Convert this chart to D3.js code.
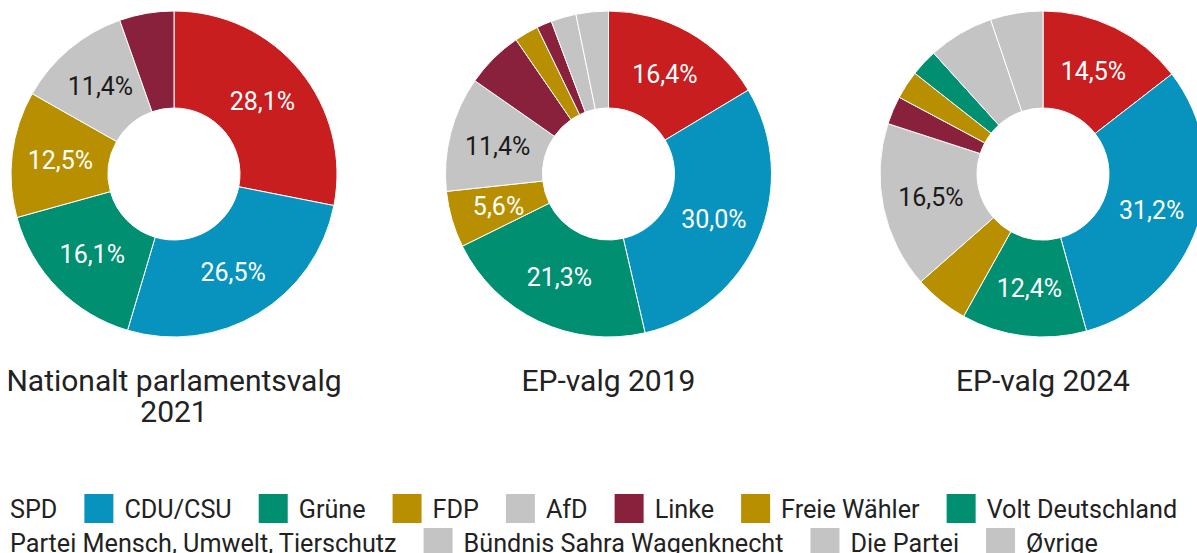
<!DOCTYPE html>
<html>
<head>
<meta charset="utf-8">
<script src="https://cdnjs.cloudflare.com/ajax/libs/d3/7.9.0/d3.min.js"></script>
<style>
  html, body { margin: 0; padding: 0; background: #fff; overflow: hidden; }
  svg { display: block; font-family: Roboto, "Noto Sans", sans-serif; }
</style>
</head>
<body>
<div id="chart"></div>
<script>
// partier (rækkefølge = rækkefølge i ringene, med uret fra kl. 12)
const partier = ["SPD", "CDU/CSU", "Grüne", "FDP", "AfD", "Linke", "Freie Wähler",
  "Volt Deutschland", "Partei Mensch, Umwelt, Tierschutz", "Bündnis Sahra Wagenknecht",
  "Die Partei", "Øvrige"];
const farver = ["#c81e1f", "#0893bf", "#008f71", "#b88f00", "#c4c4c4", "#8a213c", "#b88f00",
  "#008f71", "#8a213c", "#c4c4c4", "#c4c4c4", "#c4c4c4"];

const valgTitler = ["Nationalt parlamentsvalg 2021", "EP-valg 2019", "EP-valg 2024"];

// andele i procent, 0 = ikke med
const valg2021 = [28.1, 26.5, 16.1, 12.5, 11.4, 5.4, 0, 0, 0, 0, 0, 0];
const ep2019   = [16.4, 30.0, 21.3, 5.6, 11.4, 5.7, 2.4, 0, 1.5, 0, 2.5, 3.2];
const ep2024   = [14.5, 31.2, 12.4, 5.4, 16.5, 2.8, 2.8, 2.7, 0, 6.5, 0, 5.2];
const alleValg = [valg2021, ep2019, ep2024];

// kun de fem store partier får procent-tekst, og kun hvis skiven er stor nok
const MED_LABEL = 5;
const GRAENSE_LABEL = 5.5;

const W = 1197, H = 553;
const R_YDRE = 163, R_INDRE = 66;
const cy = 174;

const svg = d3.select("#chart").append("svg")
  .attr("width", W).attr("height", H);

const xPos = d3.scalePoint().domain(d3.range(alleValg.length)).range([174, 1043]);

const pie = d3.pie().sort(null).value(d => d.v);
const arc = d3.arc().innerRadius(R_INDRE).outerRadius(R_YDRE);
const fmt = v => d3.format(".1f")(v).replace(".", ",") + "%";

alleValg.forEach((vals, i) => {
  const data = vals.map((v, j) => ({ v, j })).filter(d => d.v > 0);
  const g = svg.append("g").attr("transform", `translate(${xPos(i)},${cy})`);

  g.selectAll("path").data(pie(data)).join("path")
    .attr("d", arc)
    .attr("fill", d => farver[d.data.j])
    .attr("stroke", "#fff")
    .attr("stroke-width", 1);

  g.selectAll("text")
    .data(pie(data).filter(d => d.data.j < MED_LABEL && d.data.v >= GRAENSE_LABEL))
    .join("text")
    .attr("transform", d => `translate(${arc.centroid(d)})`)
    .attr("text-anchor", "middle")
    .attr("dy", "0.36em")
    .attr("font-size", 25)
    .attr("fill", d => farver[d.data.j] === "#c4c4c4" ? "#1a1a1a" : "#fff")
    .text(d => fmt(d.data.v));

  // titel, brydes hvis for bred
  const t = svg.append("text")
    .attr("x", xPos(i)).attr("y", 391)
    .attr("text-anchor", "middle")
    .attr("font-size", 30)
    .attr("fill", "#222");
  const ord = valgTitler[i].split(" ");
  let linje = [], tsp = t.append("tspan").attr("x", xPos(i)).attr("dy", 0);
  ord.forEach(o => {
    linje.push(o);
    tsp.text(linje.join(" "));
    if (tsp.node().getComputedTextLength() > 350 && linje.length > 1) {
      linje.pop();
      tsp.text(linje.join(" "));
      linje = [o];
      tsp = t.append("tspan").attr("x", xPos(i)).attr("dy", 31).text(o);
    }
  });
});

// --- legende ---
const SW = 29, GAB = 11, MELLEM = 27;
const leg = svg.append("g");
let lx = -30, ly = 494;
const maxX = 1195;
partier.forEach((p, j) => {
  const it = leg.append("g");
  it.append("rect").attr("width", SW).attr("height", SW)
    .attr("fill", farver[j]);
  const txt = it.append("text")
    .attr("x", SW + GAB).attr("y", SW / 2).attr("dy", "0.36em")
    .attr("font-size", 25.2).attr("fill", "#222")
    .text(p);
  const w = SW + GAB + txt.node().getComputedTextLength();
  if (lx + w > maxX) { lx = -30; ly += 34; }
  it.attr("transform", `translate(${lx},${ly})`);
  lx += w + MELLEM;
});
</script>
</body>
</html>
